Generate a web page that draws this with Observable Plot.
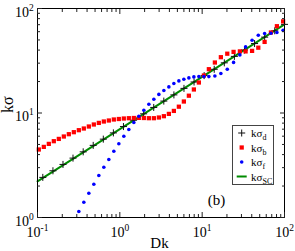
<!DOCTYPE html>
<html><head><meta charset="utf-8">
<script src="https://cdn.jsdelivr.net/npm/d3@7"></script>
<script src="https://cdn.jsdelivr.net/npm/@observablehq/plot@0.6"></script>
<style>
body{margin:0;background:#fff;}
#wrap{position:relative;width:295px;height:251px;font-family:"Liberation Serif",serif;}
#legend{position:absolute;left:232px;top:125px;width:42px;height:60px;box-sizing:border-box;border:1px solid #444;background:#fff;}
#legend svg{display:block;}
</style></head><body><div id="wrap"></div>
<script>
// kσ_b (red squares)
const bDk = [0.1037,0.1193,0.1372,0.1578,0.1815,0.2088,0.2401,0.2762,0.3177,0.3653,0.4202,0.4832,0.5557,0.6392,0.7352,0.8455,0.9723,1.118,1.286,1.479,1.701,1.957,2.251,2.589,2.978,3.425,3.939,4.530,5.211,5.993,6.893,7.930,9.119,10.49,12.06,14.27,16.87,20.18,24.07,28.72,33.68,40.39,48.05,57.33,68.38,80.86,96.16];
const sigmaB = [4.474,4.738,5.063,5.373,5.650,5.958,6.268,6.552,6.847,7.105,7.425,7.762,8.039,8.291,8.476,8.665,8.761,8.858,8.917,8.957,8.977,8.957,8.917,8.917,9.056,9.320,9.804,10.47,11.49,12.88,14.64,16.79,19.58,22.85,26.25,30.42,34.20,36.94,38.43,38.86,38.86,39.29,42.17,47.90,58.93,67.70,75.28];
// kσ_f (blue dots)
const fDk = [0.3177,0.3653,0.4202,0.4832,0.5557,0.6392,0.7352,0.8455,0.9723,1.118,1.286,1.479,1.701,1.957,2.251,2.589,2.978,3.425,3.939,4.530,5.211,5.993,6.893,7.930,9.119,10.49,12.06,14.27,16.87,20.18,24.07,28.72,33.68,40.39,48.05,57.33,68.38,80.86,96.16];
const sigmaF = [1.141,1.401,1.708,2.083,2.523,3.029,3.589,4.310,5.085,5.998,6.952,8.111,9.320,10.64,12.14,13.56,15.07,16.42,17.77,19.16,20.29,21.06,21.67,22.16,22.30,22.30,22.30,22.60,23.88,26.25,30.49,35.97,42.91,49.74,55.53,57.65,58.03,58.93,61.99];
// kσ_d (black plus)
const dDk = [0.116,0.154,0.204,0.270,0.359,0.475,0.630,0.835,1.107,1.468,1.946,2.580,3.421,4.535,6.013,7.972,10.57,14.01,18.58,24.63,32.66,43.30,57.41,76.11,100];
const sigmaD = [2.42,2.80,3.22,3.70,4.25,4.90,5.62,6.45,7.42,8.53,9.82,11.3,13.0,14.9,17.2,19.8,22.8,26.2,30.2,34.8,40.1,46.2,53.2,61.2,70.5];
// kσ_SC (green line)
const scDk = [0.1,1,10,100];
const sigmaSC = [2.22,7.02,22.2,70.5];

// ticks
const xMajor = [0.1,1,10,100];
const xExp = ["-1","0","1","2"];
const xMinor = [0.2,0.3,0.4,0.5,0.6,0.7,0.8,0.9,2,3,4,5,6,7,8,9,20,30,40,50,60,70,80,90];
const yMajor = [1,10,100];
const yExp = ["0","1","2"];
const yMinor = [2,3,4,5,6,7,8,9,20,30,40,50,60,70,80,90];

const zip = (xs, ys) => xs.map((x,i)=>({x, y: ys[i]}));
const green = "#008b00";
const tk = {stroke:"#222", strokeWidth:1, fill:"none"};
const plusR = 2.4, plusW = 1;

const plot = Plot.plot({
  width:295, height:251,
  marginLeft:37, marginRight:11, marginTop:8, marginBottom:34,
  style:{fontFamily:"Liberation Serif", background:"white", overflow:"visible"},
  x:{type:"log", domain:[0.1,100]},
  y:{type:"log", domain:[1,100]},
  marks:[
    Plot.line(zip(scDk, sigmaSC), {x:"x", y:"y", stroke:green, strokeWidth:2}),
    Plot.dot(zip(dDk, sigmaD), {x:"x", y:"y", symbol:"plus", r:plusR, stroke:"#111", strokeWidth:plusW}),
    Plot.dot(zip(bDk, sigmaB), {x:"x", y:"y", symbol:"square", r:2.4, fill:"#ff0000", stroke:"none"}),
    Plot.dot(zip(fDk, sigmaF), {x:"x", y:"y", symbol:"circle", r:1.8, fill:"#0000ff", stroke:"none"}),
    Plot.frame({stroke:"black", strokeWidth:1}),
    Plot.axisX({anchor:"bottom", ticks:xMajor, tickSize:-5, ...tk}),
    Plot.axisX({anchor:"bottom", ticks:xMinor, tickSize:-3, ...tk}),
    Plot.axisX({anchor:"top", ticks:xMajor, tickSize:-5, ...tk}),
    Plot.axisX({anchor:"top", ticks:xMinor, tickSize:-3, ...tk}),
    Plot.axisY({anchor:"left", ticks:yMajor, tickSize:-5, ...tk}),
    Plot.axisY({anchor:"left", ticks:yMinor, tickSize:-3, ...tk}),
    Plot.axisY({anchor:"right", ticks:yMajor, tickSize:-5, ...tk}),
    Plot.axisY({anchor:"right", ticks:yMinor, tickSize:-3, ...tk}),
    Plot.text(xMajor, {x:d=>d, frameAnchor:"bottom", lineAnchor:"bottom", dy:19.4, textAnchor:"middle",
      text:(d,i)=>"10^"+xExp[i], fontSize:14}),
    Plot.text(yMajor, {y:d=>d, frameAnchor:"left", dx:-3.7, dy:4, textAnchor:"end",
      text:(d,i)=>"10^"+yExp[i], fontSize:14}),
    Plot.text(["Dk"], {frameAnchor:"bottom", dx:-1.5, dy:30.7, lineAnchor:"bottom", fontSize:15, text:d=>d}),
    Plot.text(["kσ"], {frameAnchor:"left", dx:-30, rotate:-90, fontSize:16, text:d=>d}),
    Plot.text(["(b)"], {frameAnchor:"bottom-left", dx:179, dy:-12.3, lineAnchor:"bottom", textAnchor:"middle", fontSize:15, text:d=>d})
  ]
});

function superscripts(svg){
  svg.querySelectorAll("text").forEach(t=>{
    const s = t.textContent;
    if (!s.startsWith("10^")) return;
    const [base, exp] = s.split("^");
    t.textContent = base;
    const ts = document.createElementNS("http://www.w3.org/2000/svg","tspan");
    ts.setAttribute("dy","-6");
    ts.setAttribute("font-size","9.5");
    ts.textContent = exp;
    t.appendChild(ts);
  });
}
superscripts(plot);
document.getElementById("wrap").appendChild(plot);

// legend
const legendItems = [
  {kind:"plus", sub:"d"},
  {kind:"square", sub:"b"},
  {kind:"circle", sub:"f"},
  {kind:"line", sub:"SC"}
];
const rowY = [7, 21.5, 36, 50.5];
const lg = d3.select("#wrap").append("div").attr("id","legend");
const ls = lg.append("svg").attr("width",40).attr("height",58)
  .style("font-family","'Liberation Serif',serif");
legendItems.forEach((it,i)=>{
  const g = ls.append("g").attr("transform",`translate(8.7,${rowY[i]})`);
  if (it.kind==="plus") g.append("path").attr("d", d3.symbol(d3.symbolPlus, Math.PI*plusR*plusR)()).attr("fill","none").attr("stroke","#111").attr("stroke-width",plusW);
  if (it.kind==="square") g.append("path").attr("d", d3.symbol(d3.symbolSquare, Math.PI*2.4*2.4)()).attr("fill","#ff0000");
  if (it.kind==="circle") g.append("circle").attr("r",1.8).attr("fill","#0000ff");
  if (it.kind==="line") g.append("line").attr("x1",-5).attr("x2",5).attr("stroke",green).attr("stroke-width",2);
  const t = ls.append("text").attr("x",18).attr("y",rowY[i]+4).attr("font-size",11).text("kσ");
  t.append("tspan").attr("dy",3).attr("font-size",8).text(it.sub);
});
</script>
</body></html>
